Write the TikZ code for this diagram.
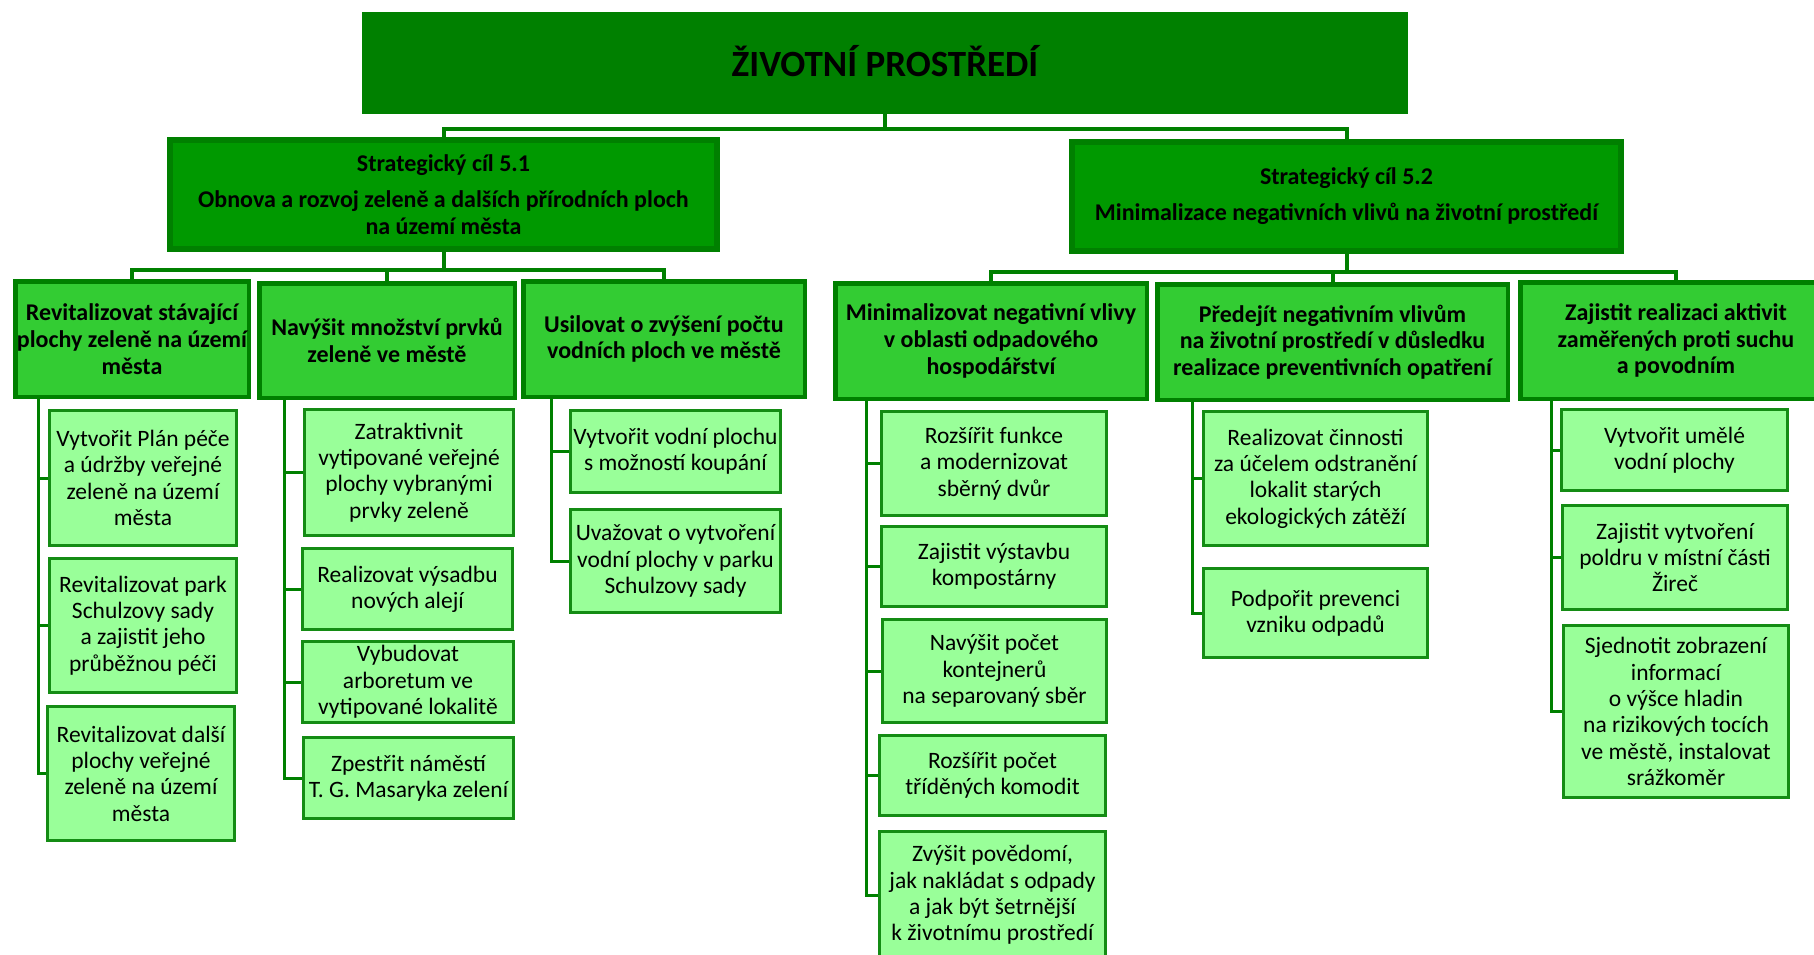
\documentclass[tikz,border=0pt]{standalone}
\usepackage{fontspec}
\setmainfont{Carlito}
\usepackage{tikz}
\definecolor{MyDarkGreen}{RGB}{0,128,0}
\definecolor{MyGoalGreen}{RGB}{0,153,0}
\definecolor{MyMidGreen}{RGB}{51,204,51}
\definecolor{MyLightGreen}{RGB}{153,255,153}
\definecolor{MyEdgeGreen}{RGB}{20,140,20}
\tikzset{
    boxsize/.style 2 args={minimum width=#1, minimum height=#2, inner sep=0pt, align=center, text=black},
    title/.style={fill=MyDarkGreen, draw=MyDarkGreen, line width=2pt, font=\bfseries\fontsize{37}{44}\selectfont},
    goal/.style={fill=MyGoalGreen, draw=MyDarkGreen, line width=6pt, font=\bfseries\fontsize{24}{27}\selectfont},
    aim/.style={fill=MyMidGreen, draw=MyDarkGreen, line width=4.5pt, font=\bfseries\fontsize{24}{26.7}\selectfont},
    task/.style={fill=MyLightGreen, draw=MyEdgeGreen, line width=3pt, font=\fontsize{23.5}{26.3}\selectfont},
    link/.style={draw=MyDarkGreen, line width=4pt},
    drop/.style={draw=MyDarkGreen, line width=3pt}
}

\begin{document}
\begin{tikzpicture}[x=1pt, y=-1pt]
    \useasboundingbox (0,0) rectangle (1814,954);
    \clip (0,0) rectangle (1814,954);
    % top
    \node[title, boxsize={1044}{100}] (top) at (885,63) {\raisebox{5pt}{ŽIVOTNÍ PROSTŘEDÍ}};
    % strategic goals
    \node[goal, boxsize={547}{109}] (S1) at (443.5,194.5) {Strategický cíl 5.1\\[9pt] Obnova a rozvoj zeleně a dalších přírodních ploch\\ na území města};
    \node[goal, boxsize={549}{109}] (S2) at (1346.5,196.5) {Strategický cíl 5.2\\[9pt] Minimalizace negativních vlivů na životní prostředí};
    % specific aims
    \node[aim, boxsize={233.5}{115.5}] (A1) at (132,339) {Revitalizovat stávající\\ plochy zeleně na území\\ města};
    \node[aim, boxsize={255.5}{114.5}] (A2) at (387,340.5) {Navýšit množství prvků\\ zeleně ve městě};
    \node[aim, boxsize={281.5}{115.5}] (A3) at (664,339) {Usilovat o zvýšení počtu\\ vodních ploch ve městě};
    \node[aim, boxsize={311.5}{115.5}] (B1) at (991,341) {Minimalizovat negativní vlivy\\ v oblasti odpadového\\ hospodářství};
    \node[aim, boxsize={350.5}{115.5}] (B2) at (1332.5,342) {Předejít negativním vlivům\\ na životní prostředí v důsledku\\ realizace preventivních opatření};
    \node[aim, boxsize={311.5}{116.5}] (B3) at (1676,340.5) {Zajistit realizaci aktivit\\ zaměřených proti suchu\\ a povodním};
    % measures
    \node[task, boxsize={187}{135}] (a11) at (143,478) {Vytvořit Plán péče\\ a údržby veřejné\\ zeleně na území\\ města};
    \node[task, boxsize={187}{134}] (a12) at (143,625.5) {Revitalizovat park\\ Schulzovy sady\\ a zajistit jeho\\ průběžnou péči};
    \node[task, boxsize={187}{134}] (a13) at (141,773.5) {Revitalizovat další\\ plochy veřejné\\ zeleně na území\\ města};
    \node[task, boxsize={209}{126}] (a21) at (409,472.5) {Zatraktivnit\\ vytipované veřejné\\ plochy vybranými\\ prvky zeleně};
    \node[task, boxsize={210}{81}] (a22) at (407.5,589) {Realizovat výsadbu\\ nových alejí};
    \node[task, boxsize={211}{81}] (a23) at (408,682) {Vybudovat\\ arboretum ve\\ vytipované lokalitě};
    \node[task, boxsize={210}{81}] (a24) at (408.5,778) {Zpestřit náměstí\\ T. G. Masaryka zelení};
    \node[task, boxsize={210}{82}] (a31) at (675.5,451.5) {Vytvořit vodní plochu\\ s možností koupání};
    \node[task, boxsize={210}{103}] (a32) at (675.5,561) {Uvažovat o vytvoření\\ vodní plochy v parku\\ Schulzovy sady};
    \node[task, boxsize={225}{104}] (b11) at (994,463.5) {Rozšířit funkce\\ a modernizovat\\ sběrný dvůr};
    \node[task, boxsize={225}{80}] (b12) at (994,566.5) {Zajistit výstavbu\\ kompostárny};
    \node[task, boxsize={224}{103}] (b13) at (994.5,671) {Navýšit počet\\ kontejnerů\\ na separovaný sběr};
    \node[task, boxsize={226}{80}] (b14) at (992.5,775.5) {Rozšířit počet\\ tříděných komodit};
    \node[task, boxsize={226}{127}] (b15) at (992.5,895) {Zvýšit povědomí,\\ jak nakládat s odpady\\ a jak být šetrnější\\ k životnímu prostředí};
    \node[task, boxsize={224}{134}] (b21) at (1315.5,478.5) {Realizovat činnosti\\ za účelem odstranění\\ lokalit starých\\ ekologických zátěží};
    \node[task, boxsize={224}{89}] (b22) at (1315.5,613) {Podpořit prevenci\\ vzniku odpadů};
    \node[task, boxsize={226}{81}] (b31) at (1674.5,450) {Vytvořit umělé\\ vodní plochy};
    \node[task, boxsize={225}{104}] (b32) at (1675,557.5) {Zajistit vytvoření\\ poldru v místní části\\ Žireč};
    \node[task, boxsize={225}{172}] (b33) at (1676,711.5) {Sjednotit zobrazení\\ informací\\ o výšce hladin\\ na rizikových tocích\\ ve městě, instalovat\\ srážkoměr};
    % connectors
    \draw[link] (top.south) -- ++(0,15) coordinate (topbus);
    \draw[link] (S1.north) |- (topbus) -| (S2.north);
    \draw[link] (S1.south) -- ++(0,18) coordinate (s1bus);
    \draw[link] (A1.north) |- (s1bus) -| (A3.north);
    \draw[link] (A2.north) -- (A2.north |- s1bus);
    \draw[link] (S2.south) -- ++(0,18) coordinate (s2bus);
    \draw[link] (B1.north) |- (s2bus) -| (B3.north);
    \draw[link] (B2.north) -- (B2.north |- s2bus);
    \foreach \c in {a11,a12,a13} \draw[drop] ([xshift=25]A1.south west) |- (\c.west);
    \foreach \c in {a21,a22,a23,a24} \draw[drop] ([xshift=27]A2.south west) |- (\c.west);
    \foreach \c in {a31,a32} \draw[drop] ([xshift=30]A3.south west) |- (\c.west);
    \foreach \c in {b11,b12,b13,b14,b15} \draw[drop] ([xshift=33]B1.south west) |- (\c.west);
    \foreach \c in {b21,b22} \draw[drop] ([xshift=37]B2.south west) |- (\c.west);
    \foreach \c in {b31,b32,b33} \draw[drop] ([xshift=33]B3.south west) |- (\c.west);
\end{tikzpicture}
\end{document}
